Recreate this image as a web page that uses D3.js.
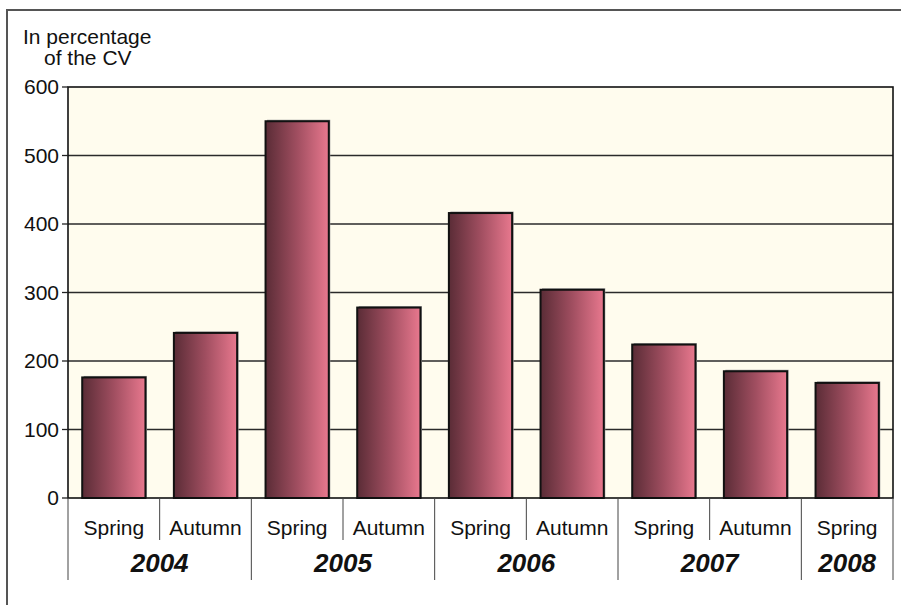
<!DOCTYPE html>
<html lang="en">
<head>
  <meta charset="UTF-8">
  <title>In percentage of the CV</title>
  <script src="https://d3js.org/d3.v7.min.js"></script>
  <style>
    body {
      margin: 0;
      background: #fff;
      font-family: 'Liberation Sans', Arial, sans-serif;
    }
    svg { display: block; }
    .grid line { stroke: #2a2a2a; stroke-width: 1.4px; }
    .tick-label { font-size: 21px; fill: #111; }
    .season { font-size: 21px; fill: #111; }
    .year { font-size: 26px; font-weight: bold; font-style: italic; fill: #111; }
  </style>
</head>
<body>
  <svg id="chart"></svg>

  <script>
    // data
    const seasons = ["Spring", "Autumn", "Spring", "Autumn", "Spring", "Autumn", "Spring", "Autumn", "Spring"];
    const years   = ["2004", "2004", "2005", "2005", "2006", "2006", "2007", "2007", "2008"];
    const values  = [176, 241, 550, 278, 416, 304, 224, 185, 168];
    const yTicks  = [0, 100, 200, 300, 400, 500, 600];
    const yearLabels = ["2004", "2005", "2006", "2007", "2008"];

    const W = 901, H = 605;
    const plot = { left: 68, right: 893, top: 87, bottom: 498 };

    const svg = d3.select("#chart").attr("width", W).attr("height", H);

    const defs = svg.append("defs");
    const grad = defs.append("linearGradient")
      .attr("id", "barGrad")
      .attr("x1", "0%").attr("x2", "100%").attr("y1", "0%").attr("y2", "0%");
    grad.append("stop").attr("offset", "0%").attr("stop-color", "#5a2c36");
    grad.append("stop").attr("offset", "50%").attr("stop-color", "#a04e60");
    grad.append("stop").attr("offset", "100%").attr("stop-color", "#e8788e");

    // outer frame (runs off right and bottom edges)
    svg.append("rect")
      .attr("x", 7).attr("y", 10)
      .attr("width", 960).attr("height", 700)
      .attr("fill", "none")
      .attr("stroke", "#555")
      .attr("stroke-width", 2);

    const idx = values.map((d, i) => i);

    const x = d3.scaleBand()
      .domain(idx)
      .range([plot.left, plot.right])
      .paddingInner(0.31)
      .paddingOuter(0.155);

    const y = d3.scaleLinear()
      .domain([0, 600])
      .range([plot.bottom, plot.top]);

    // plot background
    svg.append("rect")
      .attr("x", plot.left).attr("y", plot.top)
      .attr("width", plot.right - plot.left)
      .attr("height", plot.bottom - plot.top)
      .attr("fill", "#fffcee");

    // gridlines
    svg.append("g")
      .attr("class", "grid")
      .selectAll("line")
      .data(yTicks.filter(t => t > 0 && t < 600))
      .enter().append("line")
      .attr("x1", plot.left).attr("x2", plot.right)
      .attr("y1", d => y(d)).attr("y2", d => y(d));

    // bar shadows
    svg.selectAll(".shadow")
      .data(values)
      .enter().append("rect")
      .attr("class", "shadow")
      .attr("x", (d, i) => x(i) + 1.5)
      .attr("y", d => y(d) - 1.5)
      .attr("width", x.bandwidth())
      .attr("height", d => y(0) - y(d) + 1.5)
      .attr("fill", "#999");

    // bars
    svg.selectAll(".bar")
      .data(values)
      .enter().append("rect")
      .attr("class", "bar")
      .attr("x", (d, i) => x(i))
      .attr("y", d => y(d))
      .attr("width", x.bandwidth())
      .attr("height", d => y(0) - y(d))
      .attr("fill", "url(#barGrad)")
      .attr("stroke", "#111")
      .attr("stroke-width", 2);

    // plot border
    svg.append("rect")
      .attr("x", plot.left).attr("y", plot.top)
      .attr("width", plot.right - plot.left)
      .attr("height", plot.bottom - plot.top)
      .attr("fill", "none")
      .attr("stroke", "#111")
      .attr("stroke-width", 1.6);

    // y axis ticks and labels
    const yAxis = svg.append("g");
    yAxis.selectAll("line")
      .data(yTicks)
      .enter().append("line")
      .attr("x1", plot.left - 6).attr("x2", plot.left)
      .attr("y1", d => y(d)).attr("y2", d => y(d))
      .attr("stroke", "#222").attr("stroke-width", 1.3);
    yAxis.selectAll("text")
      .data(yTicks)
      .enter().append("text")
      .attr("class", "tick-label")
      .attr("x", plot.left - 9)
      .attr("y", d => y(d))
      .attr("dy", "0.35em")
      .attr("text-anchor", "end")
      .text(d => d);

    // axis title
    const title = svg.append("text").attr("class", "tick-label");
    title.append("tspan").attr("x", 23).attr("y", 44).text("In percentage");
    title.append("tspan").attr("x", 44).attr("y", 65).text("of the CV");

    // category axis: season labels and dividers
    const band = x.step();
    const catLeft = i => plot.left + i * band;

    svg.selectAll(".season")
      .data(seasons)
      .enter().append("text")
      .attr("class", "season")
      .attr("x", (d, i) => x(i) + x.bandwidth() / 2)
      .attr("y", 535)
      .attr("text-anchor", "middle")
      .text(d => d);

    // year groups
    const groups = yearLabels.map(yr => {
      const ids = idx.filter(i => years[i] === yr);
      return { year: yr, first: d3.min(ids), last: d3.max(ids) };
    });

    // short dividers within a year
    const shortDiv = idx.filter(i => i > 0 && years[i] === years[i - 1]);
    svg.selectAll(".sdiv")
      .data(shortDiv)
      .enter().append("line")
      .attr("x1", i => catLeft(i)).attr("x2", i => catLeft(i))
      .attr("y1", plot.bottom).attr("y2", 540)
      .attr("stroke", "#444").attr("stroke-width", 1);

    // long dividers between years and at both ends
    const longDiv = groups.map(g => g.first).concat([values.length]);
    svg.selectAll(".ldiv")
      .data(longDiv)
      .enter().append("line")
      .attr("x1", i => catLeft(i)).attr("x2", i => catLeft(i))
      .attr("y1", plot.bottom).attr("y2", 580)
      .attr("stroke", "#444").attr("stroke-width", 1);

    svg.selectAll(".year")
      .data(groups)
      .enter().append("text")
      .attr("class", "year")
      .attr("x", g => (catLeft(g.first) + catLeft(g.last + 1)) / 2)
      .attr("y", 572)
      .attr("text-anchor", "middle")
      .text(g => g.year);
  </script>
</body>
</html>
